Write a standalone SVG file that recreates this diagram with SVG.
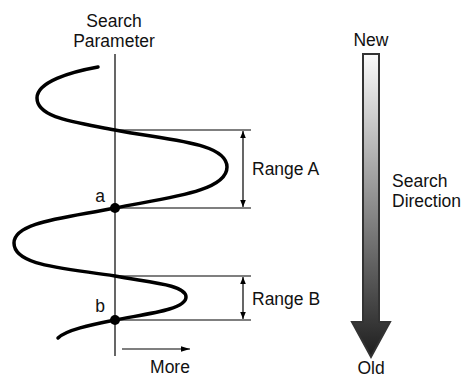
<svg xmlns="http://www.w3.org/2000/svg" width="470" height="378" viewBox="0 0 470 378">
<style>
text{font-family:"Liberation Sans",Arial,sans-serif;font-size:17.5px;fill:#111}
.thin{stroke:#000;stroke-width:1.2;fill:none}
.curve{stroke:#000;stroke-width:3.5;fill:none;stroke-linecap:round}
</style>
<defs>
<marker id="ah" viewBox="0 0 10 10" refX="10" refY="5" markerWidth="7" markerHeight="7" markerUnits="userSpaceOnUse" orient="auto-start-reverse"><path d="M0,1 L10,5 L0,9 Z" fill="#000"/></marker>
<marker id="ah2" viewBox="0 0 10 10" refX="10" refY="5" markerWidth="9" markerHeight="9" markerUnits="userSpaceOnUse" orient="auto"><path d="M0,2 L10,5 L0,8 Z" fill="#000"/></marker>
<linearGradient id="g" x1="0" y1="0" x2="0" y2="1"><stop offset="0" stop-color="#fbfbfb"/><stop offset="1" stop-color="#1e1e1e"/></linearGradient>
</defs>
<g id="axis"><line class="thin" x1="115" y1="54" x2="115" y2="356"/>
<text x="114" y="27" text-anchor="middle">Search</text><text x="114" y="47" text-anchor="middle">Parameter</text></g>
<g id="curve"><path class="curve" d="M98,67 C70,72 37,82 37,98 C37,118 75,122 115,130 C165,140 227,142 227,167 C227,192 165,198 115,208 C65,218 14,222 14,243 C14,266 65,268 115,276 C145,282 186,284 186,297 C186,310 145,314 115,320 C90,325 66,330 58,338"/></g>
<g id="connectors">
<line class="thin" x1="115" y1="130" x2="251" y2="130"/>
<line class="thin" x1="115" y1="208" x2="251" y2="208"/>
<line class="thin" x1="115" y1="276" x2="251" y2="276"/>
<line class="thin" x1="115" y1="320" x2="251" y2="320"/>
<line class="thin" x1="243" y1="131" x2="243" y2="207" marker-start="url(#ah)" marker-end="url(#ah)"/>
<line class="thin" x1="243" y1="277" x2="243" y2="319" marker-start="url(#ah)" marker-end="url(#ah)"/>
<line class="thin" x1="122" y1="349" x2="190" y2="349" marker-end="url(#ah2)"/>
</g>
<g id="point-a"><circle cx="115" cy="208" r="5" fill="#000"/><text x="100" y="202" text-anchor="middle">a</text></g>
<g id="point-b"><circle cx="115" cy="320" r="5" fill="#000"/><text x="100" y="312" text-anchor="middle">b</text></g>
<g id="range-a"><text x="252" y="175">Range A</text></g>
<g id="range-b"><text x="252" y="305">Range B</text></g>
<g id="more"><text x="170" y="373" text-anchor="middle">More</text></g>
<g id="direction">
<path d="M363,54 L379,54 L379,322 L390,322 L371,357 L352,322 L363,322 Z" fill="url(#g)" stroke="#333" stroke-width="2" stroke-linejoin="miter"/>
<text x="371" y="46" text-anchor="middle">New</text>
<text x="371" y="374" text-anchor="middle">Old</text>
<text x="392" y="187">Search</text><text x="392" y="207">Direction</text>
</g>
</svg>
